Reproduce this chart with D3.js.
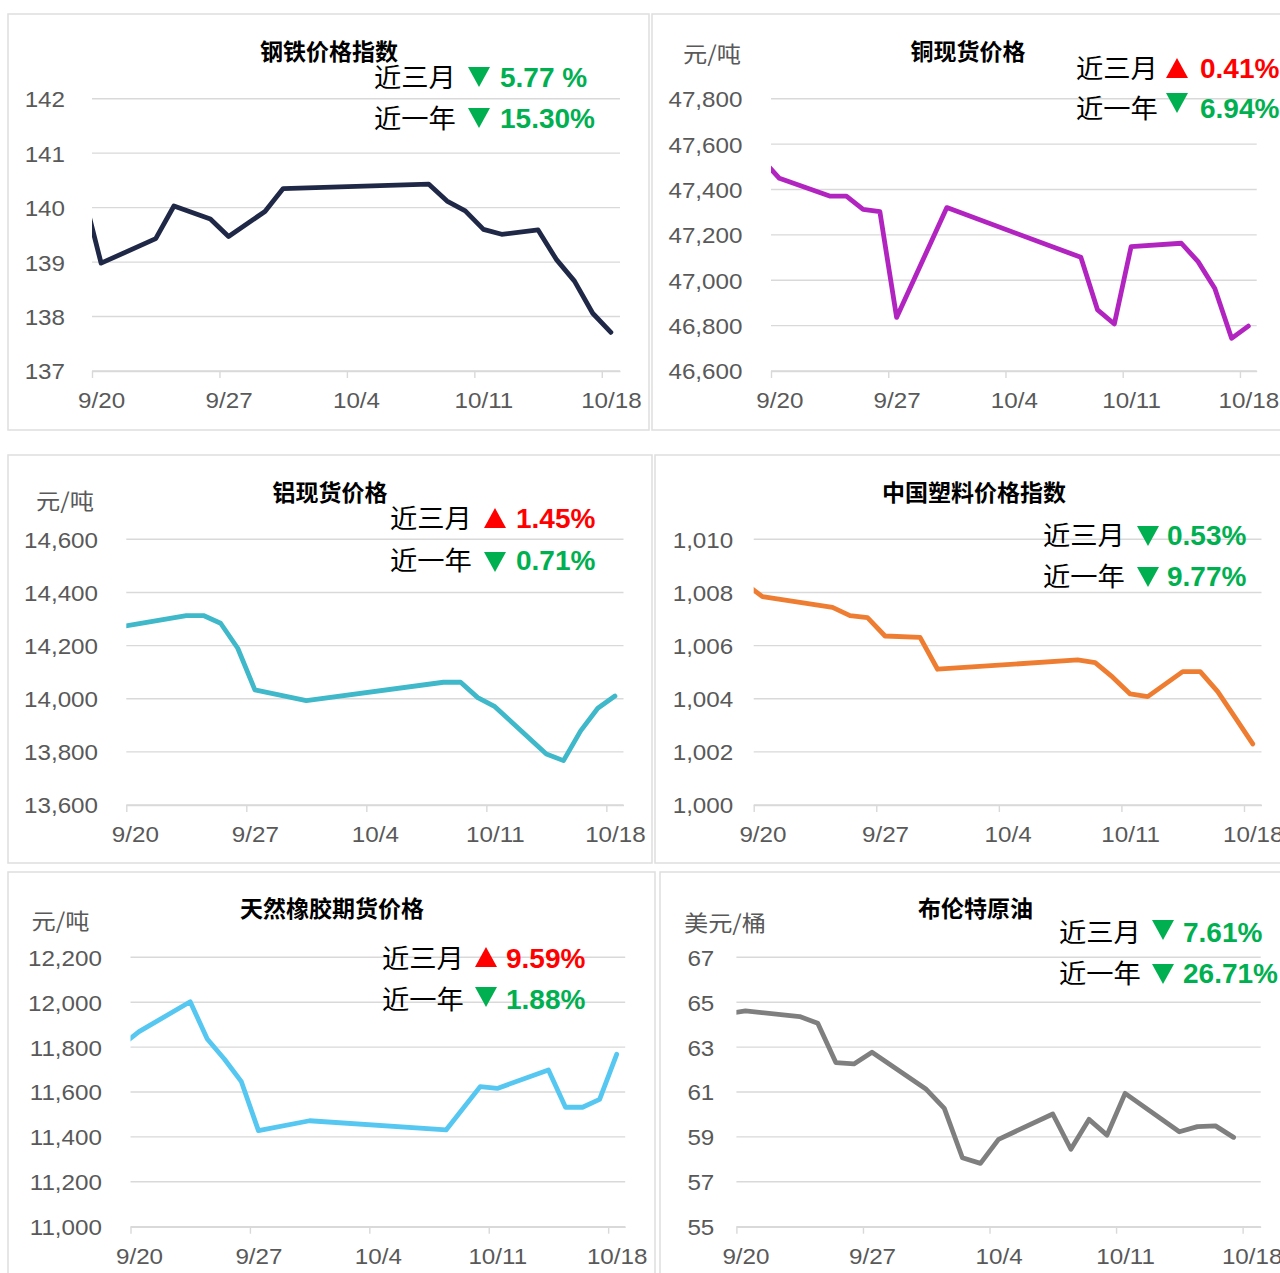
<!DOCTYPE html>
<meta charset="utf-8">
<html>
<head>
<style>
    body { margin: 0; background: #fff; }
    svg { display: block; }
    .tick text {
        font-family: "Liberation Sans", Arial, sans-serif;
        font-size: 22px;
        fill: #595959;
    }
    .cjk { font-family: "Noto Sans CJK SC", sans-serif; }
    .num { font-family: "Liberation Sans", Arial, sans-serif; font-weight: bold; }
</style>
</head>
<body>
<svg width="1280" height="1273"></svg>
<script src="https://d3js.org/d3.v7.min.js"></script>
<script>

// trading days (2019); 9/19 sits just left of the axis and gets clipped, like Excel does
var dates = ['9/19','9/20','9/23','9/24','9/25','9/26','9/27','9/29','9/30','10/1','10/2','10/3','10/4',
             '10/7','10/8','10/9','10/10','10/11','10/12','10/14','10/15','10/16','10/17','10/18'];

var steel   = [140.3, 138.98, 139.43, 140.03, null, 139.79, 139.47, 139.93, 140.35, null, null, null, null,
               null, 140.43, 140.12, 139.94, 139.6, 139.51, 139.59, 139.05, 138.65, 138.06, 137.71];
var copper  = [47530, 47449, 47371, 47371, 47312, 47302, 46836, null, 47320, null, null, null, null,
               null, 47101, 46869, 46807, 47148, null, 47163, 47082, 46964, 46744, 46798];
var alu     = [14269, 14280, 14313, 14313, 14284, 14190, 14033, null, 13993, null, null, null, null,
               null, 14062, 14062, 14004, 13970, null, 13792, 13767, 13879, 13964, 14010];
var plastic = [1008.34, 1007.84, null, 1007.44, 1007.13, 1007.05, 1006.36, 1006.31, 1005.11, null, null, null, null,
               null, 1005.46, 1005.36, 1004.81, 1004.18, 1004.08, 1005.02, 1005.02, 1004.27, 1003.29, 1002.30];
var rubber  = [11809, 11869, 12002, 11836, 11747, 11646, 11428, null, 11472, null, null, null, null,
               null, 11431, null, 11624, 11616, null, 11698, 11532, 11532, 11567, 11768];
var brent   = [64.49, 64.61, 64.36, 64.06, 62.31, 62.25, 62.77, null, 61.12, 60.27, 58.07, 57.82, 58.89,
               60.02, 58.45, 59.78, 59.08, 60.94, null, 59.23, 59.46, 59.49, 58.98, null];

var xTickLabels = ['9/20', '9/27', '10/4', '10/11', '10/18'];

var steelTicks   = [137, 138, 139, 140, 141, 142];
var copperTicks  = [46600, 46800, 47000, 47200, 47400, 47600, 47800];
var aluTicks     = [13600, 13800, 14000, 14200, 14400, 14600];
var plasticTicks = [1000, 1002, 1004, 1006, 1008, 1010];
var rubberTicks  = [11000, 11200, 11400, 11600, 11800, 12000, 12200];
var brentTicks   = [55, 57, 59, 61, 63, 65, 67];

var changeLabels   = ['近三月', '近一年'];
var steelChange    = [['down', '5.77 %'], ['down', '15.30%']];
var copperChange   = [['up', '0.41%'], ['down', '6.94%']];
var aluChange      = [['up', '1.45%'], ['down', '0.71%']];
var plasticChange  = [['down', '0.53%'], ['down', '9.77%']];
var rubberChange   = [['up', '9.59%'], ['down', '1.88%']];
var brentChange    = [['down', '7.61%'], ['down', '26.71%']];

var titles = ['钢铁价格指数', '铜现货价格', '铝现货价格', '中国塑料价格指数', '天然橡胶期货价格', '布伦特原油'];
var units  = [null, '元/吨', '元/吨', null, '元/吨', '美元/桶'];

// layout of each of the six excel-style charts
var panels = [
    { values: steel, ticks: steelTicks, change: steelChange, fmt: d3.format('d'), color: '#1f2846',
      box: [8, 14, 641, 416], l: 92, r: 620, t: 98.7, b: 371, gap: 27,
      tx: 329, ty: 60, ux: 0, uy: 0,
      ax: 374, rows: [87, 128], triX: 468, triDy: [0, 0], px: 500 },
    { values: copper, ticks: copperTicks, change: copperChange, fmt: d3.format(','), color: '#b224c0',
      box: [652, 14, 660, 416], l: 771, r: 1256.7, t: 98.7, b: 371, gap: 28.6,
      tx: 968, ty: 60, ux: 683, uy: 61.5,
      ax: 1076, rows: [78, 118], triX: 1166, triDy: [0, -5], px: 1200 },
    { values: alu, ticks: aluTicks, change: aluChange, fmt: d3.format(','), color: '#3fb8c9',
      box: [8, 455, 644, 408], l: 126.3, r: 623.5, t: 539.3, b: 805, gap: 28.3,
      tx: 330, ty: 500.5, ux: 36, uy: 508.5,
      ax: 390, rows: [528, 570], triX: 484, triDy: [0, 2], px: 516 },
    { values: plastic, ticks: plasticTicks, change: plasticChange, fmt: d3.format(','), color: '#ee7d31',
      box: [655, 455, 660, 408], l: 753.7, r: 1261.5, t: 539.3, b: 805, gap: 20.5,
      tx: 974, ty: 500.5, ux: 0, uy: 0,
      ax: 1043, rows: [545, 586], triX: 1137, triDy: [1, 1], px: 1167 },
    { values: rubber, ticks: rubberTicks, change: rubberChange, fmt: d3.format(','), color: '#55c7f1',
      box: [8, 872, 647, 420], l: 130.5, r: 625.2, t: 957.3, b: 1226.7, gap: 28.6,
      tx: 332, ty: 916.5, ux: 31.6, uy: 928.5,
      ax: 382, rows: [968, 1009], triX: 475, triDy: [-1, -2], px: 506 },
    { values: brent, ticks: brentTicks, change: brentChange, fmt: d3.format('d'), color: '#7f7f7f',
      box: [660, 872, 660, 420], l: 736.4, r: 1260.7, t: 957.3, b: 1226.7, gap: 22.1,
      tx: 975.5, ty: 916.5, ux: 684, uy: 930.5,
      ax: 1059, rows: [942, 983], triX: 1152, triDy: [-2, 1], px: 1183 }
];

var S = 1.1;          // the reference glyphs are a bit wider than the fonts here
var GRID = '#d9d9d9';
var GREEN = '#00b050', RED = '#ff0000';

var svg = d3.select('svg');

function parseDay(s, hour) {
    var p = s.split('/').map(Number);
    return new Date(2019, p[0] - 1, p[1], hour);
}

panels.forEach(function(p, i) {
    var g = svg.append('g');

    g.append('rect')
        .attr('x', p.box[0]).attr('y', p.box[1])
        .attr('width', p.box[2]).attr('height', p.box[3])
        .attr('fill', 'none').attr('stroke', '#dedede').attr('stroke-width', 1.5);

    var x = d3.scaleTime()
        .domain([new Date(2019, 8, 20), new Date(2019, 9, 19)])
        .range([p.l, p.r]);
    var y = d3.scaleLinear()
        .domain(d3.extent(p.ticks))
        .range([p.b, p.t]);
    var halfDay = x(new Date(2019, 8, 20, 12)) - x(new Date(2019, 8, 20));

    // gridlines
    g.selectAll('.grid')
        .data(p.ticks)
        .join('line')
        .attr('class', 'grid')
        .attr('x1', p.l).attr('x2', p.r)
        .attr('y1', function(d) { return y(d); })
        .attr('y2', function(d) { return y(d); })
        .attr('stroke', GRID).attr('stroke-width', 1.4);

    // y axis labels
    var ya = g.append('g')
        .attr('transform', 'translate(' + p.l + ',0)')
        .call(d3.axisLeft(y).tickValues(p.ticks).tickFormat(p.fmt).tickSize(0).tickPadding(p.gap / S));
    ya.select('.domain').remove();
    ya.selectAll('text').attr('dy', '0.36em').attr('transform', 'scale(' + S + ',1)');

    // x axis
    var xa = g.append('g')
        .attr('transform', 'translate(0,' + p.b + ')')
        .call(d3.axisBottom(x)
            .tickValues(xTickLabels.map(function(s) { return parseDay(s, 0); }))
            .tickFormat(function(d, k) { return xTickLabels[k]; })
            .tickSize(7).tickSizeOuter(0));
    xa.select('.domain').attr('stroke', GRID).attr('stroke-width', 1.4);
    xa.selectAll('.tick line').attr('stroke', GRID).attr('stroke-width', 1.4);
    xa.selectAll('text')
        .attr('x', halfDay / S).attr('y', 37).attr('dy', 0)
        .attr('transform', 'scale(' + S + ',1)');

    // series line
    var pts = dates.map(function(s, k) { return { date: parseDay(s, 12), v: p.values[k] }; })
        .filter(function(d) { return d.v != null; });

    g.append('clipPath').attr('id', 'clip' + i)
        .append('rect')
        .attr('x', p.l).attr('y', p.t - 30)
        .attr('width', p.r - p.l).attr('height', p.b - p.t + 60);

    g.append('path')
        .datum(pts)
        .attr('clip-path', 'url(#clip' + i + ')')
        .attr('fill', 'none')
        .attr('stroke', p.color)
        .attr('stroke-width', 4.8)
        .attr('stroke-linejoin', 'round')
        .attr('stroke-linecap', 'round')
        .attr('d', d3.line()
            .x(function(d) { return x(d.date); })
            .y(function(d) { return y(d.v); }));

    // title
    g.append('text')
        .attr('class', 'cjk')
        .attr('x', p.tx).attr('y', p.ty)
        .attr('text-anchor', 'middle')
        .attr('font-size', 23).attr('font-weight', 'bold')
        .attr('fill', '#000')
        .text(titles[i]);

    // unit
    if (units[i]) {
        g.append('text')
            .attr('class', 'cjk')
            .attr('transform', 'translate(' + p.ux + ',' + p.uy + ') scale(' + S + ',1)')
            .attr('font-size', 22)
            .attr('fill', '#595959')
            .text(units[i]);
    }

    // change annotations
    p.change.forEach(function(c, k) {
        var by = p.rows[k];
        var col = c[0] === 'up' ? RED : GREEN;

        g.append('text')
            .attr('class', 'cjk')
            .attr('transform', 'translate(' + p.ax + ',' + by + ') scale(1.05,1)')
            .attr('font-size', 26)
            .attr('fill', '#000')
            .text(changeLabels[k]);

        var top = by - 20 + p.triDy[k], w = 22, h = 20;
        var tri = c[0] === 'up'
            ? [[p.triX, top + h], [p.triX + w, top + h], [p.triX + w / 2, top]]
            : [[p.triX, top], [p.triX + w, top], [p.triX + w / 2, top + h]];
        g.append('path')
            .attr('d', 'M' + tri.map(function(q) { return q.join(','); }).join('L') + 'Z')
            .attr('fill', col);

        g.append('text')
            .attr('class', 'num')
            .attr('x', p.px).attr('y', by)
            .attr('font-size', 28)
            .attr('fill', col)
            .text(c[1]);
    });
});

</script>
</body>
</html>
